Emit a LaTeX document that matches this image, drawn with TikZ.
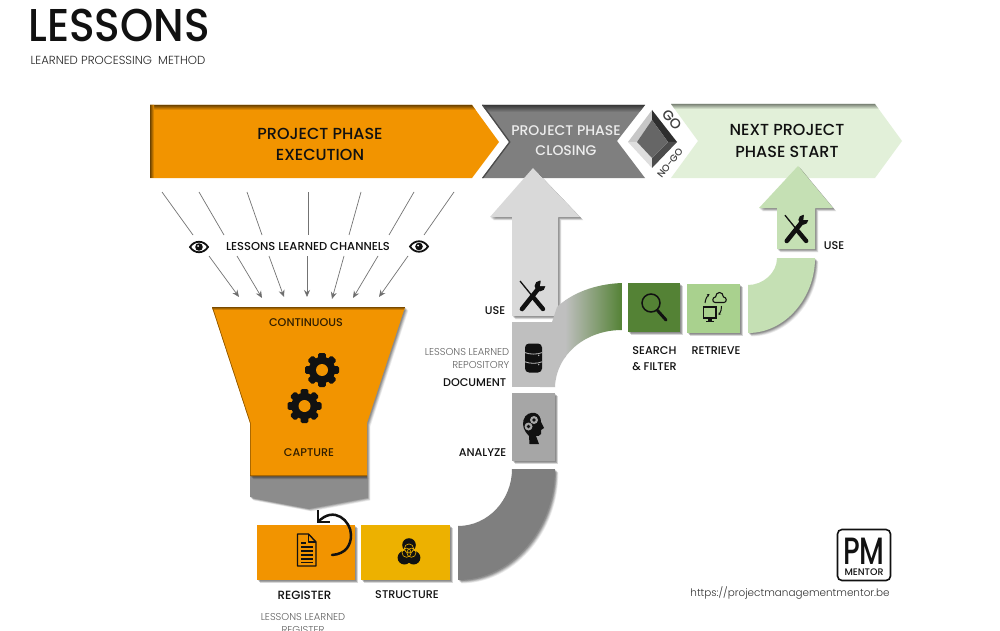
\documentclass[tikz,border=0pt]{standalone}
\usepackage{fontspec}
\setmainfont{Poppins}
\newfontfamily\lightface{Poppins Light}
\newfontfamily\mediumface{Poppins Medium}
\usetikzlibrary{arrows.meta}
\definecolor{phaseorange}{HTML}{F29400}
\definecolor{phasegrey}{HTML}{7F7F7F}
\definecolor{nextgreen}{HTML}{E2F0D9}
\definecolor{usegrey}{HTML}{D9D9D9}
\definecolor{docgrey}{HTML}{BFBFBF}
\definecolor{anagrey}{HTML}{A6A6A6}
\definecolor{structyellow}{HTML}{EDB100}
\definecolor{searchgreen}{HTML}{548235}
\definecolor{retrgreen}{HTML}{A9D18E}
\definecolor{usegreen}{HTML}{C5E0B4}
\definecolor{inkblack}{HTML}{111111}
\newcommand{\fs}[2]{\fontsize{#1}{#2}\selectfont}
\tikzset{
  chline/.style={draw=black!55,line width=0.7pt},
  charrow/.style={chline,-{Stealth[length=7pt,width=6pt,fill=black!60]}},
  label/.style={inner sep=0pt,text=inkblack,font=\mediumface\fs{11.2}{13}},
  thin label/.style={inner sep=0pt,text=black!62,font=\lightface\fs{10}{13}},
  banner/.style={inner sep=0pt,align=center,font=\mediumface\fs{16}{21.5}},
}
% Fills a path over a stack of faint offset copies that read as a soft shadow
\newcommand{\softshape}[2]{%
  \foreach \d/\o in {3.4/0.07,2.8/0.09,2.2/0.11,1.6/0.13,1/0.15}{
    \fill[black,opacity=\o,shift={(\d,\d)}] #2;
  }
  \fill[#1] #2;}
% Crossed wrench and screwdriver; #4 is the backdrop colour
\newcommand{\toolicon}[4]{%
  \begin{scope}[shift={(#1,#2)},scale=#3]
    \draw[inkblack,line width=1.3pt] (-12,-15) -- (1,1);
    \draw[inkblack,line width=4.4pt,line cap=round] (1,1) -- (11,13);
    \draw[inkblack,line width=4.6pt,line cap=round] (-10,13) -- (6,-7);
    \fill[inkblack] (8,-10) circle (5.4);
    \fill[#4] (8,-10) -- (9,-17) -- (16,-17) -- (16,-10) -- cycle;
  \end{scope}}
% Eye with iris and pupil
\newcommand{\eyeicon}[2]{%
  \begin{scope}[shift={(#1,#2)}]
    \draw[inkblack,line width=1.8pt,fill=white] (-9,0) .. controls (-4.5,-7) and (4.5,-7) .. (9,0) .. controls (4.5,7) and (-4.5,7) .. (-9,0) -- cycle;
    \fill[inkblack] (0,0) circle (3.8);
    \fill[white] (-0.9,-0.9) circle (1);
  \end{scope}}
% Eight-toothed cog with a hole of the backdrop colour
\newcommand{\gearicon}[4]{%
  \begin{scope}[shift={(#1,#2)},scale=#3]
    \fill[inkblack] (0,0) circle (13.2);
    \foreach \a in {0,45,...,315}
      \fill[inkblack,rotate=\a,rounded corners=1.5pt] (-3.8,-17) rectangle (3.8,-10);
    \fill[#4] (0,0) circle (6);
  \end{scope}}
\begin{document}
\begin{tikzpicture}[x=1pt,y=-1pt]
\useasboundingbox (0,0) rectangle (1000,631);
\clip (0,0) rectangle (1000,631);
\fill[white] (0,0) rectangle (1000,631);

% Heading
\node[inner sep=0pt,text=inkblack,font=\mediumface\fs{46}{46},xscale=0.92,transform shape] (title) at (119,25) {LESSONS};
\node[inner sep=0pt,text=black!85,font=\lightface\fs{11.7}{13}] (subtitle) at (118,60.5) {LEARNED PROCESSING\hspace{3pt} METHOD};

% Phase banners
\path[fill=phaseorange] (150,105) -- (472,105) -- (499,142) -- (472,178) -- (150,178) -- cycle;
\begin{scope}
  \clip (150,105) -- (472,105) -- (499,142) -- (472,178) -- (150,178) -- cycle;
  \shade[top color=phaseorange!45!black,bottom color=phaseorange] (150,105) rectangle (500,110);
  \shade[left color=phaseorange!45!black,right color=phaseorange] (150,105) rectangle (154,178);
\end{scope}
\path[fill=phasegrey] (482,105) -- (645,105) -- (617,141) -- (645,178) -- (482,178) -- (509,142) -- cycle;
\begin{scope}
  \clip (482,105) -- (645,105) -- (617,141) -- (645,178) -- (482,178) -- (509,142) -- cycle;
  \shade[top color=black!78,bottom color=phasegrey] (480,105) rectangle (650,112);
  \draw[black!70,line width=2.5pt] (482,105) -- (509,142) -- (482,178);
\end{scope}
\path[fill=nextgreen] (671,104) -- (875,104) -- (902,141) -- (875,178) -- (671,178) -- (698,141) -- cycle;
\begin{scope}
  \clip (671,104) -- (875,104) -- (902,141) -- (875,178) -- (671,178) -- (698,141) -- cycle;
  \shade[top color=black!45!nextgreen,bottom color=nextgreen] (670,104) rectangle (880,109);
\end{scope}
\node[banner,text=inkblack] (execution) at (320,144.5) {PROJECT PHASE\\EXECUTION};
\node[banner,text=white!93!black,font=\mediumface\fs{14}{19.5}] (closing) at (566,140.5) {PROJECT PHASE\\CLOSING};
\node[banner,text=inkblack] (nextphase) at (787,141) {NEXT PROJECT\\PHASE START};

% Go / no-go decision diamond
\fill[black!22] (628,142) -- (652,110) -- (652,120) -- (637,142) -- cycle;
\fill[black!13] (628,142) -- (652,168) -- (652,158) -- (637,142) -- cycle;
\fill[black!82] (652,110) -- (677,142) -- (668,142) -- (652,120) -- cycle;
\fill[black!70] (652,168) -- (677,142) -- (668,142) -- (652,158) -- cycle;
\fill[black!60] (637,142) -- (652,120) -- (668,142) -- (652,158) -- cycle;
\node[inner sep=0pt,rotate=-52,text=black!75,font=\mediumface\fs{14}{14}] (go) at (672,120) {GO};
\node[inner sep=0pt,rotate=52,text=black!75,font=\mediumface\fs{9.6}{10}] (nogo) at (670,163) {NO-GO};

% Lessons learned channels
\foreach \i/\xa/\xb/\xc/\xd/\ye in {1/162/193/209/239/297,2/199/224/237/262/298,3/247/262/269/284/297,4/308/308/307/307/297,5/361/349/344/332/299,6/414/389/378/353/298,7/454/424/408/379/297}{
  \coordinate (top\i) at (\xa,192);
  \coordinate (mid\i) at (\xb,235);
  \coordinate (low\i) at (\xc,256);
  \coordinate (end\i) at (\xd,\ye);
  \draw[chline] (top\i) -- (mid\i);
  \draw[charrow] (low\i) -- (end\i);
}
\node[label,font=\mediumface\fs{11.5}{13}] (channels) at (308,246) {LESSONS LEARNED CHANNELS};
\eyeicon{199}{247}
\eyeicon{419}{246.5}

% Capture funnel
\softshape{docgrey!20!phasegrey}{(250,476) -- (367,476) -- (367,497) -- (308,508) -- (250,497) -- cycle}
\softshape{phaseorange}{(212,307) -- (405,307) -- (367,423) -- (367,476) -- (250,476) -- (250,423) -- cycle}
\begin{scope}
  \clip (212,307) -- (405,307) -- (367,423) -- (367,476) -- (250,476) -- (250,423) -- cycle;
  \shade[top color=phaseorange!50!black,bottom color=phaseorange] (210,307) rectangle (410,310);
  \draw[phaseorange!55!black,line width=1.2pt] (212,307) -- (250,423) -- (250,476) -- (367,476);
\end{scope}
\node[label,text=black!80!phaseorange] (continuous) at (306,323) {CONTINUOUS};
\node[label,text=black!80!phaseorange] (capture) at (309,453) {CAPTURE};
\gearicon{322}{370}{1}{phaseorange}
\gearicon{304.5}{406}{1}{phaseorange}

% Register and structure steps
\softshape{phaseorange}{(257,525) rectangle (355,580)}
\softshape{structyellow}{(361,525) rectangle (450,580)}
\begin{scope}[shift={(306.5,550)}]
  \draw[inkblack,line width=1.4pt,line join=round,fill=phaseorange] (-9,-16) -- (2,-16) -- (9.5,-8) -- (9.5,16) -- (-9,16) -- cycle;
  \draw[inkblack,line width=1.1pt,line join=round] (2,-16) -- (2,-8) -- (9.5,-8);
  \foreach \y in {-3,1,5,9,12.5}
    \draw[inkblack,line width=1.1pt] (-5.5,\y) -- (6,\y);
  \draw[inkblack,line width=1.1pt] (-5.5,-7) -- (-1,-7);
\end{scope}
\coordinate (loopstart) at (332,555);
\coordinate (loopend) at (318,522);
\draw[inkblack,line width=2.5pt,line cap=round] (loopstart) .. controls (346,554) and (351,545) .. (351,535) .. controls (351,521) and (334,505) .. (loopend);
\draw[inkblack,line width=2.5pt,line join=miter] (loopend) ++(0,-12) -- (loopend) -- ++(12,0);
\begin{scope}[shift={(409,551.5)}]
  \fill[inkblack] (0,-6.5) circle (6.8) (-4.6,6.2) circle (6.8) (4.6,6.2) circle (6.8);
  \draw[structyellow,line width=0.6pt] (0,-3) circle (4.6) (-2.4,1.2) circle (4.6) (2.4,1.2) circle (4.6);
\end{scope}
\node[label,font=\mediumface\fs{11.9}{13}] (register) at (304.5,595) {REGISTER};
\node[label] (structure) at (407,595) {STRUCTURE};
\node[thin label,align=center] (registerdoc) at (303,623) {LESSONS LEARNED\\REGISTER};

% Curved flow from structure up to analysis
\softshape{phasegrey}{(512,469) -- (555,469) .. controls (555,530) and (510,580) .. (458,580) -- (458,526) .. controls (488,526) and (512,500) .. (512,469) -- cycle}

% Analyse, document and use column
\softshape{anagrey}{(512,393) rectangle (555,461)}
\softshape{usegrey}{(533,168) -- (580,217) -- (558,217) -- (558,316) -- (512,316) -- (512,217) -- (490,217) -- cycle}
\begin{scope}
  \clip (555,387) .. controls (556,355) and (585,330) .. (622,330) -- (622,283) .. controls (595,284) and (572,293) .. (557,307) -- (552,322) -- (540,322) -- (540,387) -- cycle;
  \shade[left color=docgrey,right color=searchgreen] (565,270) rectangle (622,395);
  \fill[docgrey] (530,270) rectangle (565.5,395);
\end{scope}
\path[fill=docgrey] (512,322) rectangle (555,387);
\toolicon{532}{296}{1}{usegrey}
\begin{scope}[shift={(533.5,358)}]
  \fill[inkblack,rounded corners=4pt] (-8.5,-14.5) rectangle (8.5,14.5);
  \foreach \y in {-5.4,3.8}
    \draw[docgrey,line width=0.8pt] (-8.5,\y) .. controls (-4,\y+2) and (4,\y+2) .. (8.5,\y);
  \foreach \y in {-2.6,6.6}
    \fill[docgrey] (5.2,\y) circle (0.7);
\end{scope}
\begin{scope}[shift={(533,428)}]
  \fill[inkblack] (-3.5,16) -- (-4,8) .. controls (-9,3) and (-11,-2) .. (-9.5,-8) .. controls (-8,-14) and (-2,-16) .. (2,-15) .. controls (6,-14) and (8,-10) .. (8,-6) -- (11,0) -- (8,2) -- (8,6) .. controls (7,8) and (5,8) .. (3,8) -- (6,16) -- cycle;
  \foreach \gx/\gy in {1/-8,-4.5/-1.5}{
    \fill[anagrey] (\gx,\gy) circle (4);
    \fill[inkblack] (\gx,\gy) circle (1.8);
  }
\end{scope}
\node[label,anchor=east] (usea) at (505.5,311) {USE};
\node[thin label,anchor=east,align=right] (repository) at (509.5,358.5) {LESSONS LEARNED\\REPOSITORY};
\node[label,anchor=east] (document) at (506.5,383) {DOCUMENT};
\node[label,anchor=east] (analyze) at (506.5,453) {ANALYZE};

% Search, retrieve and use on the next phase
\softshape{searchgreen}{(628,283) rectangle (680,332)}
\softshape{retrgreen}{(687,284) rectangle (740,333)}
\draw[inkblack,line width=1.5pt] (651,303) circle (9);
\draw[inkblack,line width=3pt,line cap=round] (657.5,310.5) -- (666,320);
\begin{scope}[shift={(716,305)}]
  \draw[inkblack,line width=1.1pt,fill=retrgreen] (-1,-2.5) .. controls (-4,-2.5) and (-4,-8) .. (-0.5,-8) .. controls (0,-14) and (7,-14) .. (7.5,-8) .. controls (11,-8) and (11,-2.5) .. (8,-2.5) -- cycle;
  \draw[inkblack,line width=1.4pt] (-12.5,2) rectangle (0,13);
  \fill[inkblack] (-8,13) rectangle (-4.5,16);
  \fill[inkblack] (-10,15.5) rectangle (-2.5,17);
  \draw[inkblack,line width=1pt,-{Stealth[length=2.5pt,width=3pt]}] (-11,-2) .. controls (-10.5,-6) and (-9,-9) .. (-6.5,-11);
  \draw[inkblack,line width=1pt,-{Stealth[length=2.5pt,width=3pt]}] (5.5,1) .. controls (5.5,4) and (5,7) .. (2.5,10);
\end{scope}
\node[label,align=center,font=\mediumface\fs{11.2}{16}] (search) at (654.5,359) {SEARCH\\\& FILTER};
\node[label] (retrieve) at (716,351) {RETRIEVE};

\softshape{usegreen}{(748,285) .. controls (763,285) and (777,273) .. (777,258) -- (815,258) .. controls (815,298) and (785,333) .. (748,333) -- cycle}
\softshape{usegreen}{(798,166) -- (833,208) -- (815,208) -- (815,249) -- (777,249) -- (777,208) -- (759,208) -- cycle}
\toolicon{796}{229}{0.92}{usegreen}
\node[label] (useb) at (834,246) {USE};

% PM Mentor mark and address
\node[draw=inkblack,line width=1.6pt,rounded corners=4.5pt,minimum width=53pt,minimum height=51pt,inner sep=0pt] (logo) at (864,555) {};
\node[inner sep=0pt,text=inkblack,font=\mediumface\fs{38}{38},xscale=0.74,transform shape] (pm) at (864,551.5) {PM};
\node[inner sep=0pt,text=inkblack,font=\mediumface\fs{9.5}{10}] (mentor) at (864,572.5) {MENTOR};
\node[inner sep=0pt,text=black!80,font=\lightface\fs{10.4}{13}] (url) at (790,593) {https://projectmanagementmentor.be};
\end{tikzpicture}
\end{document}
